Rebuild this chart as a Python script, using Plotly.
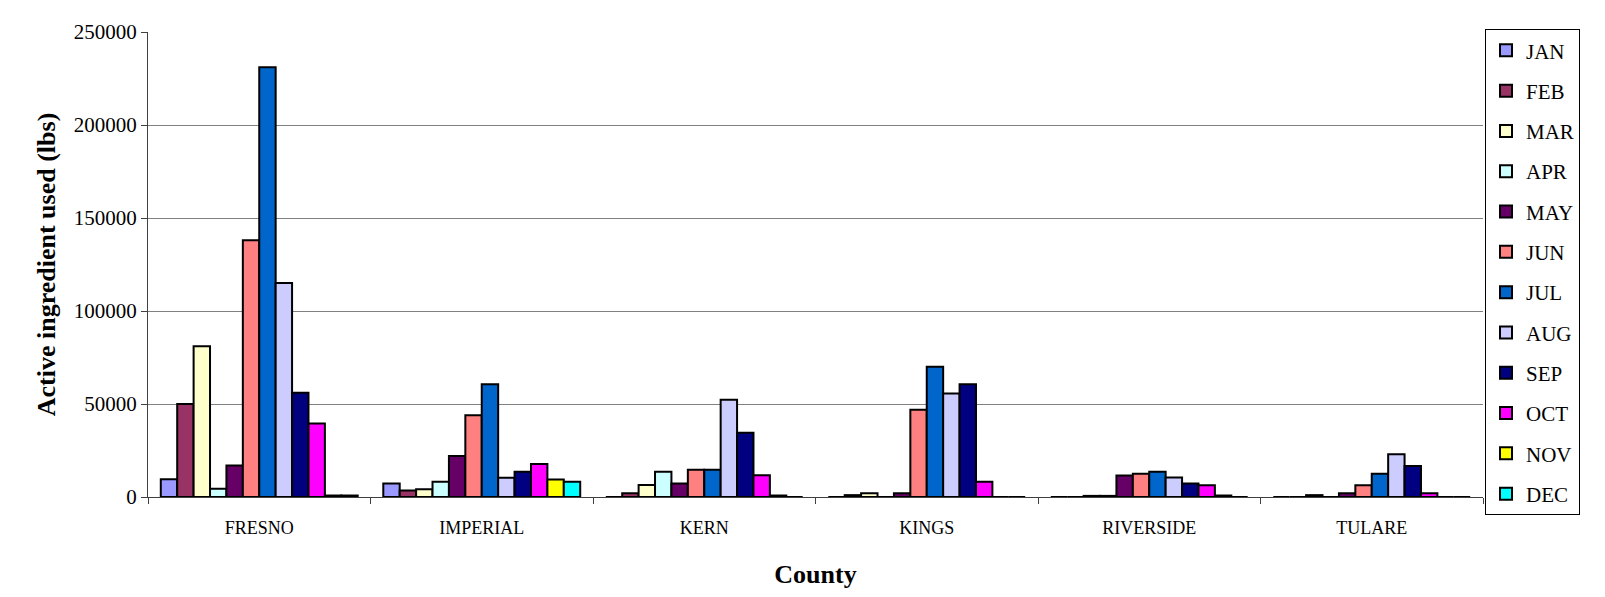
import plotly.graph_objects as go

counties = ["FRESNO", "IMPERIAL", "KERN", "KINGS", "RIVERSIDE", "TULARE"]
months = ["JAN", "FEB", "MAR", "APR", "MAY", "JUN", "JUL", "AUG", "SEP", "OCT", "NOV", "DEC"]
colors = ["#9999FF", "#993366", "#FFFFCC", "#CCFFFF", "#660066", "#FF8080",
          "#0066CC", "#CCCCFF", "#000080", "#FF00FF", "#FFFF00", "#00FFFF"]

# values per month across counties (FRESNO, IMPERIAL, KERN, KINGS, RIVERSIDE, TULARE)
jan = [9500, 7300, 0, 0, 0, 0]
feb = [50000, 3500, 2000, 1000, 0, 0]
mar = [81000, 4200, 6400, 2000, 600, 1000]
apr = [4500, 8200, 13600, 0, 600, 0]
may = [17000, 22100, 7300, 2000, 11500, 2000]
jun = [138000, 43900, 14600, 46900, 12500, 6300]
jul = [231000, 60600, 14600, 70000, 13600, 12500]
aug = [115000, 10400, 52300, 55600, 10500, 23000]
sep = [56000, 13600, 34500, 60600, 7300, 16700]
octo = [39500, 17800, 11700, 8200, 6300, 2000]
nov = [800, 9400, 800, 0, 800, 0]
dec = [800, 8200, 0, 0, 0, 0]

series = [jan, feb, mar, apr, may, jun, jul, aug, sep, octo, nov, dec]

fig = go.Figure()
for i, (m, vals) in enumerate(zip(months, series)):
    fig.add_trace(go.Bar(
        x=counties, y=vals, name=m, legendgroup=m,
        marker=dict(color=colors[i], line=dict(color="black", width=2)),
    ))

serif = "Liberation Serif, Times New Roman, serif"
fig.update_layout(
    barmode="group",
    bargap=0.115,
    bargroupgap=0,
    width=1605, height=597,
    margin=dict(l=140, r=130, t=18, b=108),
    paper_bgcolor="white",
    plot_bgcolor="white",
    font=dict(family=serif, color="black", size=18),
    legend=dict(
        x=1.0015, xanchor="left", y=1.006, yanchor="top",
        bordercolor="black", borderwidth=1, bgcolor="white",
        font=dict(family=serif, size=21, color="black"),
        tracegroupgap=10,
        itemwidth=30,
        maxheight=597,
    ),
    xaxis=dict(
        title=dict(text="<b>County</b>", font=dict(family=serif, size=26), standoff=28),
        showline=True, linecolor="#404040", linewidth=1,
        ticks="outside", tickson="boundaries", ticklen=6, tickcolor="#404040",
        tickfont=dict(family=serif, size=18),
        ticklabelstandoff=14,
        showgrid=False,
    ),
    yaxis=dict(
        title=dict(text="<b>Active ingredient used (lbs)</b>", font=dict(family=serif, size=26), standoff=10),
        range=[0, 250000], dtick=50000, tickformat="d",
        showline=True, linecolor="#404040", linewidth=1,
        ticks="outside", ticklen=6, tickcolor="#404040",
        showgrid=True, gridcolor="#808080", gridwidth=1,
        tickfont=dict(family=serif, size=21),
        zeroline=False,
    ),
)

fig.write_html("out.html")
